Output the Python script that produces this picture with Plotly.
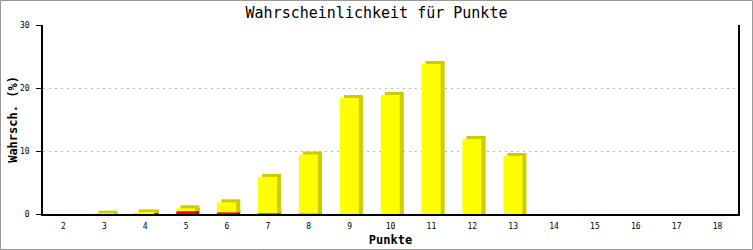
import plotly.graph_objects as go

categories = list(range(2, 19))
red_values = [0, 0, 0.15, 0.45, 0.25, 0.1, 0.03, 0, 0, 0, 0, 0, 0, 0, 0, 0, 0]
yellow_values = [0, 0.05, 0.1, 0.45, 1.6, 5.8, 9.4, 18.4, 18.9, 23.8, 11.9, 9.2, 0, 0, 0, 0, 0]
y_ticks = [0, 10, 20, 30]

W, H = 753, 250
ML, MR, MT, MB = 43, 15, 25, 36
pw, ph = W - ML - MR, H - MT - MB

bar_w = 0.465
off = -0.24
dx = 0.1          # 3D depth in x (category units)
dy = 0.48         # 3D depth in y (value units)

fig = go.Figure()

def add(x, h, base, color, o):
    fig.add_trace(go.Bar(x=x, y=h, base=base, width=bar_w, offset=o,
                         marker=dict(color=color, line=dict(width=0)),
                         showlegend=False, hoverinfo="skip"))

# shadows (depth faces)
sx, sh, sb = [], [], []
for c, r in zip(categories, red_values):
    if r > 0:
        sx.append(c); sh.append(r + dy); sb.append(0)
add(sx, sh, sb, "#CC0000", off + dx)
sx, sh, sb = [], [], []
for c, r, yv in zip(categories, red_values, yellow_values):
    if yv > 0:
        sx.append(c); sh.append(yv + dy); sb.append(r)
add(sx, sh, sb, "#CCCC00", off + dx)
# fronts
add(categories, red_values, [0] * len(categories), "#FF0000", off)
add(categories, yellow_values, red_values, "#FFFF00", off)

fig.update_layout(
    width=W, height=H,
    margin=dict(l=ML, r=MR, t=MT, b=MB, pad=0, autoexpand=False),
    paper_bgcolor="white", plot_bgcolor="white",
    barmode="overlay",
    title=dict(text="Wahrscheinlichkeit für Punkte", x=0.5, xanchor="center",
               y=1 - 13 / H, yanchor="middle",
               font=dict(family="DejaVu Sans Mono", size=15, color="black")),
    font=dict(family="DejaVu Sans Mono", color="black"),
    xaxis=dict(range=[1.5, 18.5], tickvals=categories, ticktext=[str(c) for c in categories],
               automargin=False,
               showline=True, linecolor="black", linewidth=2, showgrid=False, zeroline=False,
               ticks="outside", ticklen=3, tickcolor="rgba(0,0,0,0)",
               tickfont=dict(size=8, family="DejaVu Sans Mono"),
               title=dict(text="<b>Punkte</b>", font=dict(size=12, family="DejaVu Sans Mono"),
                          standoff=6)),
    yaxis=dict(range=[0, 30], tickvals=y_ticks, ticktext=[str(v) for v in y_ticks],
               automargin=False,
               showline=True, linecolor="black", linewidth=1.5, mirror=True,
               showgrid=True, gridcolor="#BBBBBB", griddash="2px,4px", gridwidth=1,
               zeroline=False,
               ticks="outside", ticklen=5, tickcolor="black", ticklabelstandoff=5,
               tickfont=dict(size=8, family="DejaVu Sans Mono"),
               title=dict(text="<b>Wahrsch. (%)</b>", font=dict(size=12, family="DejaVu Sans Mono"),
                          standoff=0)),
)

# outer gray border around the whole picture
fig.add_shape(type="rect", xref="paper", yref="paper",
              x0=(0.5 - ML) / pw, x1=(W - 0.5 - ML) / pw,
              y0=-(MB - 0.5) / ph, y1=1 + (MT - 0.5) / ph,
              line=dict(color="#999999", width=1), layer="above")

fig.write_html("out.html")
